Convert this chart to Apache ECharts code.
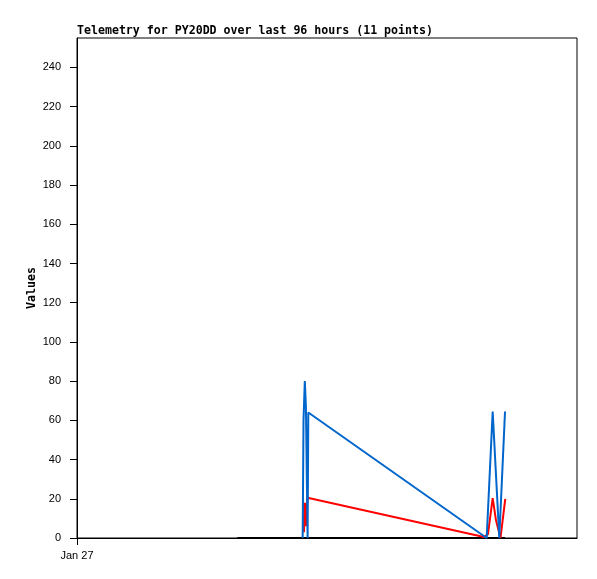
<!DOCTYPE html>
<html>
<head>
<meta charset="utf-8">
<script src="https://cdn.jsdelivr.net/npm/echarts@6/dist/echarts.min.js"></script>
<style>html,body{margin:0;padding:0;background:#fff}#c{width:597px;height:579px}</style>
</head>
<body>
<div id="c"></div>
<script>
// hours since Jan 27 00:00 (x axis spans 96 hours)
var blueHours  = [43.33, 43.49, 43.74, 43.95, 44.12, 44.28, 44.41, 78.66, 79.81, 81.08, 82.18];
var blueValues = [0,     60,    80,    67,    32,    0,     64,    0,     64.5,  0,     64.5];
var redHours   = [43.39, 43.58, 43.78, 43.97, 44.26, 44.45, 78.14, 78.91, 79.81, 80.45, 81.31, 82.23];
var redValues  = [20,    3,     18,    6,     20.5,  20.5,  0.5,   2,     20.3,  9,     0,     20];
var blackHours = [30.78, 82.2];
var blackValues= [0,     0];
var yTicks = [0, 20, 40, 60, 80, 100, 120, 140, 160, 180, 200, 220, 240];
var xTicks = [0];
var xTickLabels = ['Jan 27'];

function pairs(xs, ys){ return xs.map(function(x,i){ return [x, ys[i]]; }); }

var chart = echarts.init(document.getElementById('c'), null, {renderer:'canvas'});
chart.setOption({
  animation: false,
  backgroundColor: '#fff',
  title: {
    text: 'Telemetry for PY20DD over last 96 hours (11 points)',
    left: 72, top: 20,
    textStyle: {fontFamily: 'DejaVu Sans Mono', fontWeight: 'bold', fontSize: 11.6, color: '#000', lineHeight: 12}
  },
  grid: {left: 77, top: 38, width: 500, height: 500, show: true, borderColor: '#000', borderWidth: 1, backgroundColor: 'transparent'},
  xAxis: {
    type: 'value', min: 0, max: 96,
    axisLine: {show: true, onZero: false, lineStyle: {color: '#000', width: 1}},
    axisTick: {show: true, inside: false, length: 7, lineStyle: {color: '#000'}, customValues: xTicks},
    axisLabel: {show: true, margin: 12, customValues: xTicks, color: '#000', fontFamily: 'Liberation Sans', fontSize: 11,
      formatter: function(v){ var i = xTicks.indexOf(v); return i >= 0 ? xTickLabels[i] : ''; }},
    splitLine: {show: false}
  },
  yAxis: {
    type: 'value', min: 0, max: 255,
    name: 'Values', nameLocation: 'middle', nameGap: 39, nameRotate: 90, nameMoveOverlap: false,
    nameTextStyle: {fontFamily: 'DejaVu Sans Mono', fontWeight: 'bold', fontSize: 11.6, color: '#000'},
    axisLine: {show: true, lineStyle: {color: '#000', width: 1}},
    axisTick: {show: true, inside: false, length: 7, lineStyle: {color: '#000'}, customValues: yTicks},
    axisLabel: {show: true, margin: 16, customValues: yTicks, color: '#000', fontFamily: 'Liberation Sans', fontSize: 11},
    splitLine: {show: false}
  },
  series: [
    {type: 'line', data: pairs(blackHours, blackValues), showSymbol: false, lineStyle: {color: '#000', width: 2}, z: 2},
    {type: 'line', data: pairs(redHours, redValues), showSymbol: false, lineStyle: {color: '#ff0000', width: 2}, z: 3},
    {type: 'line', data: pairs(blueHours, blueValues), showSymbol: false, lineStyle: {color: '#0066cc', width: 2}, z: 4}
  ]
});
</script>
</body>
</html>
